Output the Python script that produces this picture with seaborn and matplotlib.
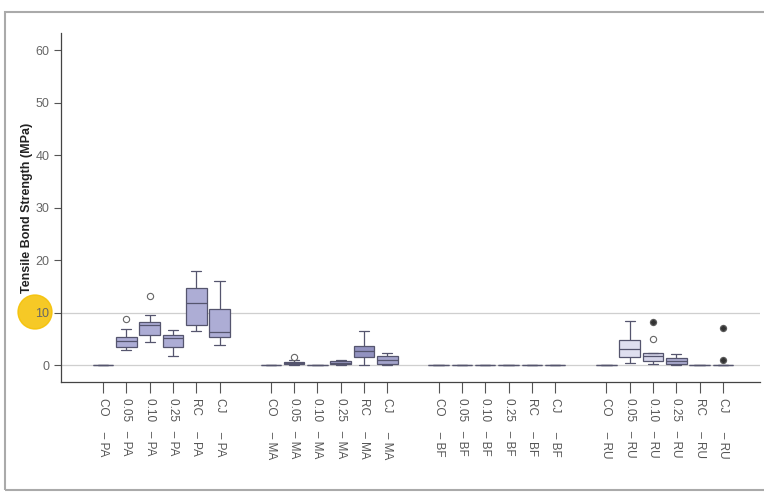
import pandas as pd
import seaborn as sns
import matplotlib.pyplot as plt
from matplotlib.patches import Rectangle, Ellipse

sns.set_style('white')
plt.rcParams['font.family'] = ['Liberation Sans', 'DejaVu Sans']

# category layout: 4 adhesive groups x 6 surface treatments
groups = ['PA', 'MA', 'BF', 'RU']
treatments = ['CO', '0.05', '0.10', '0.25', 'RC', 'CJ']

vals = {
    'CO-PA':   [0, 0, 0, 0, 0, 0, 0, 0, 0],
    '0.05-PA': [2.9, 3.2, 3.5, 4.1, 4.6, 5.0, 5.3, 6.9, 8.7],
    '0.10-PA': [4.4, 5.2, 5.8, 7.0, 7.6, 7.9, 8.2, 9.5, 13.1],
    '0.25-PA': [1.8, 2.9, 3.4, 4.5, 5.1, 5.5, 5.8, 6.3, 6.7],
    'RC-PA':   [6.5, 7.0, 7.6, 10.2, 11.9, 13.4, 14.7, 16.5, 18.0],
    'CJ-PA':   [3.9, 4.8, 5.4, 5.9, 6.4, 8.5, 10.6, 13.2, 16.0],
    'CO-MA':   [0, 0, 0, 0, 0, 0, 0, 0, 0],
    '0.05-MA': [0.0, 0.1, 0.15, 0.3, 0.4, 0.5, 0.65, 0.9, 1.5],
    '0.10-MA': [0, 0, 0, 0, 0, 0, 0, 0, 0],
    '0.25-MA': [0.0, 0.1, 0.15, 0.3, 0.4, 0.5, 0.7, 0.85, 1.0],
    'RC-MA':   [0.1, 1.0, 1.6, 2.2, 2.7, 3.2, 3.7, 5.0, 6.5],
    'CJ-MA':   [0.0, 0.1, 0.3, 0.7, 1.0, 1.3, 1.7, 2.0, 2.3],
    'CO-BF':   [0, 0, 0, 0, 0, 0, 0, 0, 0],
    '0.05-BF': [0, 0, 0, 0, 0, 0, 0, 0, 0],
    '0.10-BF': [0, 0, 0, 0, 0, 0, 0, 0, 0],
    '0.25-BF': [0, 0, 0, 0, 0, 0, 0, 0, 0],
    'RC-BF':   [0, 0, 0, 0, 0, 0, 0, 0, 0],
    'CJ-BF':   [0, 0, 0, 0, 0, 0, 0, 0, 0],
    'CO-RU':   [0, 0, 0, 0, 0, 0, 0, 0, 0],
    '0.05-RU': [0.4, 1.0, 1.6, 2.4, 3.0, 3.9, 4.7, 6.5, 8.5],
    '0.10-RU': [0.3, 0.5, 0.8, 1.3, 1.7, 2.0, 2.3, 4.9, 8.3],
    '0.25-RU': [0.0, 0.1, 0.25, 0.5, 0.75, 1.0, 1.3, 1.8, 2.2],
    'RC-RU':   [0, 0, 0, 0, 0, 0, 0, 0, 0],
    'CJ-RU':   [0, 0, 0, 0, 0, 0, 0, 1.0, 7.0],
}

box_colors = {
    'PA': ['#a6a6dc'] * 6,
    'MA': ['#a6a6dc', '#a6a6dc', '#a6a6dc', '#9a9ad2', '#8a8ac8', '#9c9cd2'],
    'BF': ['#a6a6dc'] * 6,
    'RU': ['#a6a6dc', '#dcdcf2', '#d2d2ec', '#a8a8d8', '#a6a6dc', '#a6a6dc'],
}

rows = []
palette = {}
tick_pos, tick_lab = [], []
pad = {'CO': '     ', '0.05': '   ', '0.10': '   ', '0.25': '   ', 'RC': '     ', 'CJ': '      '}
for g_i, g in enumerate(groups):
    for t_i, t in enumerate(treatments):
        key = f'{t}-{g}'
        pos = g_i * 7.2 + t_i
        palette[key] = box_colors[g][t_i]
        tick_pos.append(pos)
        tick_lab.append(f'{t}{pad[t]}– {g}')
        for v in vals[key]:
            rows.append({'pos': pos, 'key': key, 'value': v})
df = pd.DataFrame(rows)

fig = plt.figure(figsize=(7.64, 4.95), dpi=100)
ax = fig.add_axes([0.080, 0.228, 0.915, 0.705])

ax.axhline(0, color='#cfcfcf', lw=0.9, zorder=0)
ax.axhline(10, color='#cfcfcf', lw=0.9, zorder=0)

sns.boxplot(data=df, x='pos', y='value', hue='key', palette=palette,
            native_scale=True, width=0.88, legend=False, ax=ax,
            linecolor='#55556e', linewidth=0.9, whis=1.5,
            flierprops=dict(marker='o', markersize=4.5, markerfacecolor='white',
                            markeredgecolor='#666666', markeredgewidth=0.8))

# extreme values (beyond 3 IQR) shown as filled dots
ext = []
for key, grp in df.groupby('key'):
    q1, q3 = grp['value'].quantile([0.25, 0.75])
    lim = q3 + 3 * (q3 - q1)
    ext.append(grp[grp['value'] > lim])
ext = pd.concat(ext)
sns.scatterplot(data=ext, x='pos', y='value', color='#333333', s=14,
                edgecolor='#333333', ax=ax, zorder=5, legend=False)

ax.set_xlim(-1.8, 28.2)
ax.set_ylim(-3.24, 63.24)
ax.set_yticks([0, 10, 20, 30, 40, 50, 60])
ax.set_xticks(tick_pos)
ax.set_xticklabels(tick_lab, rotation=270, fontsize=8.5, color='#555555')
ax.tick_params(axis='y', labelsize=9, labelcolor='#666666', length=5,
               width=0.8, color='#555555', left=True)
ax.tick_params(axis='x', length=8, width=0.8, color='#555555', bottom=True)
ax.set_xlabel('')
ax.set_ylabel('Tensile Bond Strength (MPa)', fontsize=9, fontweight='bold',
              color='#222222', labelpad=2)
for s in ['top', 'right']:
    ax.spines[s].set_visible(False)
for s in ['left', 'bottom']:
    ax.spines[s].set_color('#444444')
    ax.spines[s].set_linewidth(0.9)

# scanned page frame and highlight marker
fig.add_artist(Rectangle((5 / 764, 1 - 490 / 495), 770 / 764, 478 / 495,
                         transform=fig.transFigure, fill=False,
                         edgecolor='#aaaaaa', lw=1.5))
fig.add_artist(Ellipse((35 / 764, 1 - 312 / 495), 34 / 764, 34 / 495,
                       transform=fig.transFigure, color='#f5c000', alpha=0.85,
                       zorder=0))

fig.savefig('out.png', dpi=100)
